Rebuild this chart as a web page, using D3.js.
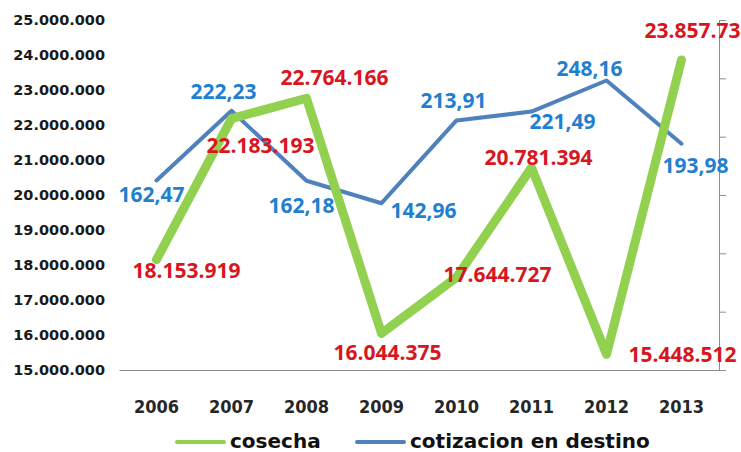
<!DOCTYPE html>
<html>
<head>
<meta charset="utf-8">
<script src="https://cdn.jsdelivr.net/npm/d3@7"></script>
<style>
  body { margin: 0; background: #fff; }
  svg { display: block; }
  .lbl { font-family: "Open Sans", sans-serif; font-weight: 700; font-size: 21px; }
</style>
</head>
<body>
<svg id="chart"></svg>
<script>
// data
var years = ["2006", "2007", "2008", "2009", "2010", "2011", "2012", "2013"];
var cosecha = [18153919, 22183193, 22764166, 16044375, 17644727, 20781394, 15448512, 23857730];
var cotizacion = [162.47, 222.23, 162.18, 142.96, 213.91, 221.49, 248.16, 193.98];
var seriesNames = ["cosecha", "cotizacion en destino"];

// label placement (dx from point, dy to baseline)
var cosechaOff = [[30, 18], [29, 34], [28, -13], [6, 27], [41, 5], [7, -3], [76, 8], [17, -22]];
var cotizOff = [[-5, 22], [-8, -12], [-5, 32], [42, 15], [-3, -12], [31, 17], [-17, -4], [14, 29]];

var W = 741, H = 452;
var green = "#92d050", blue = "#4f81bd", red = "#d7161d", blueTxt = "#1f7fd0";

var svg = d3.select("#chart").attr("width", W).attr("height", H);

var es = d3.formatLocale({decimal: ",", thousands: ".", grouping: [3], currency: ["", ""]});
var fInt = es.format(",d"), fDec = es.format(",.2f");

var x = d3.scaleBand().domain(years).range([119, 719]).padding(0);
var y1 = d3.scaleLinear().domain([15000000, 25000000]).range([370, 20]);
var y2 = d3.scaleLinear().domain([0, 300]).range([370, 20]);
var cx = function(d, i) { return x(years[i]) + x.bandwidth() / 2; };

// left axis (labels only)
var gl = svg.append("g").attr("transform", "translate(119,0)")
  .call(d3.axisLeft(y1).ticks(10).tickSize(0).tickPadding(14).tickFormat(fInt));
gl.select(".domain").remove();
gl.selectAll("text")
  .style("font-family", "DejaVu Sans").style("font-weight", "bold")
  .style("font-size", "14.5px").attr("fill", "#1a1a1a");

// right axis (ticks, no labels)
var gr = svg.append("g").attr("transform", "translate(719,0)")
  .call(d3.axisRight(y2).ticks(6).tickSize(7).tickSizeOuter(0).tickFormat(""));
gr.select(".domain").attr("stroke", "#8c8c8c");
gr.selectAll(".tick line").attr("stroke", "#8c8c8c");

// bottom axis
var gb = svg.append("g").attr("transform", "translate(0,370)")
  .call(d3.axisBottom(x).tickSize(0).tickSizeOuter(0));
gb.select(".domain").attr("stroke", "#8c8c8c");
gb.selectAll("text").attr("y", 43).attr("dy", 0)
  .style("font-family", "DejaVu Sans Condensed, DejaVu Sans").style("font-weight", "bold")
  .style("font-size", "18px").attr("fill", "#262626");

// lines
var lineC = d3.line().x(cx).y(function(d) { return y1(d); });
var lineP = d3.line().x(cx).y(function(d) { return y2(d); });

svg.append("path").datum(cotizacion).attr("d", lineP)
  .attr("fill", "none").attr("stroke", blue).attr("stroke-width", 4)
  .attr("stroke-linecap", "round").attr("stroke-linejoin", "round");

svg.append("path").datum(cosecha).attr("d", lineC)
  .attr("fill", "none").attr("stroke", green).attr("stroke-width", 9)
  .attr("stroke-linecap", "round").attr("stroke-linejoin", "round");

// data labels
svg.append("g").selectAll("text").data(cotizacion).enter().append("text")
  .attr("class", "lbl").attr("text-anchor", "middle").attr("fill", blueTxt)
  .attr("x", function(d, i) { return cx(d, i) + cotizOff[i][0]; })
  .attr("y", function(d, i) { return y2(d) + cotizOff[i][1]; })
  .text(function(d) { return fDec(d); });

svg.append("g").selectAll("text").data(cosecha).enter().append("text")
  .attr("class", "lbl").attr("text-anchor", "middle").attr("fill", red)
  .attr("x", function(d, i) { return cx(d, i) + cosechaOff[i][0]; })
  .attr("y", function(d, i) { return y1(d) + cosechaOff[i][1]; })
  .text(function(d) { return fInt(d); });

// legend
var legend = [
  {name: seriesNames[0], color: green, x: 177},
  {name: seriesNames[1], color: blue, x: 357}
];
var lg = svg.append("g").selectAll("g").data(legend).enter().append("g")
  .attr("transform", function(d) { return "translate(" + d.x + ",442)"; });
lg.append("line").attr("x1", 0).attr("x2", 47).attr("y1", 0).attr("y2", 0)
  .attr("stroke", function(d) { return d.color; }).attr("stroke-width", 4)
  .attr("stroke-linecap", "round");
lg.append("text").attr("x", 53).attr("y", 6)
  .style("font-family", "DejaVu Sans").style("font-weight", "bold").style("font-size", "20px")
  .attr("fill", "#111").text(function(d) { return d.name; });
</script>
</body>
</html>
